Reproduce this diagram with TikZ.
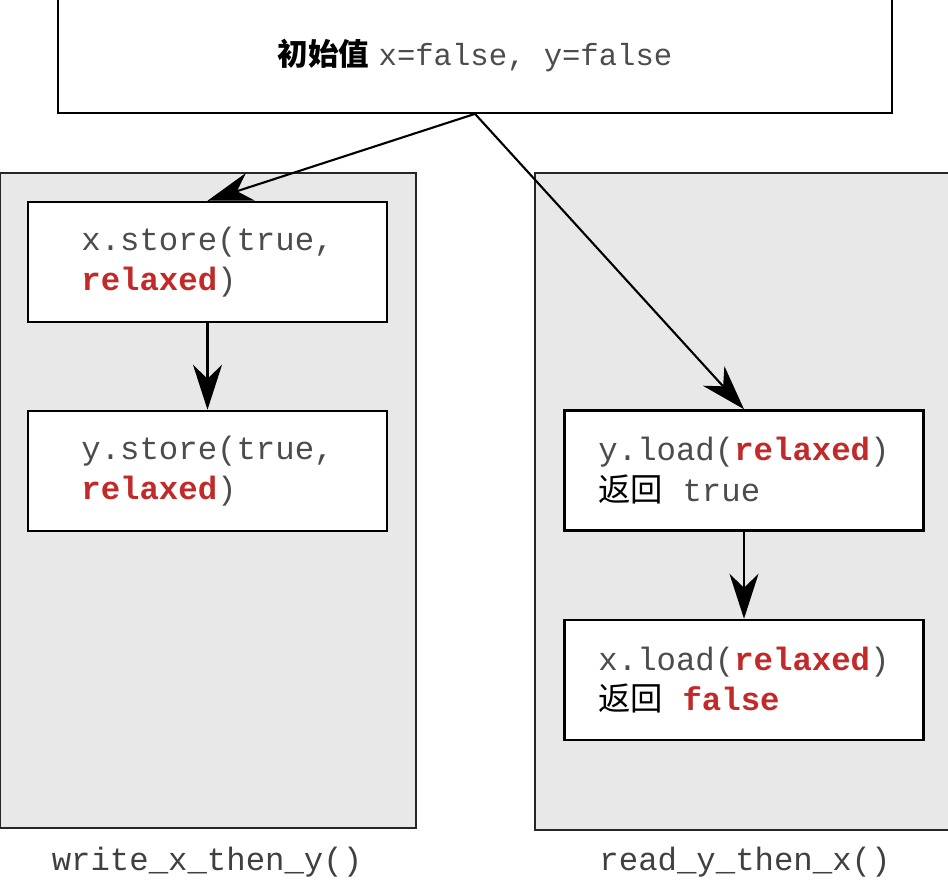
\documentclass[tikz,border=0pt]{standalone}
\usepackage{fontspec}
\setmonofont{Liberation Mono}
\newfontfamily\cjk{Noto Sans CJK SC}
\usetikzlibrary{arrows.meta}
\definecolor{mred}{rgb}{0.76, 0.16, 0.16}
\definecolor{mpanel}{rgb}{0.91, 0.91, 0.91}
\newcommand{\kw}[1]{\textcolor{mred}{\bfseries #1}}

\begin{document}
\begin{tikzpicture}[
    stmt/.style={draw, line width=1.4pt, fill=white, align=left, text=black!70, font=\ttfamily\fontsize{18.4}{23}\selectfont, minimum width=7.18cm, minimum height=2.4cm},
    flow/.style={-{Stealth[length=9mm, width=5.8mm, inset=2.8mm]}, line width=1.2pt}
  ]
  \useasboundingbox (0, 0) rectangle (18.96, 17.76);

  \draw [draw=black!85, line width=1.3pt, fill=mpanel] (0, 1.2) rectangle (8.32, 14.3);
  \draw [draw=black!85, line width=1.3pt, fill=mpanel] (10.7, 1.16) rectangle (19.2, 14.3);

  \node [draw, line width=1pt, fill=white, minimum width=16.68cm, minimum height=2.3cm, font=\fontsize{17.4}{21}\selectfont] (init) at (9.5, 16.65) {{\cjk\bfseries 初始值} {\ttfamily\color{black!70}x=false, y=false}};

  \node [stmt] (wx) at (4.15, 12.52) {x.store(true,\\\kw{relaxed})};
  \node [stmt] (wy) at (4.15, 8.34) {y.store(true,\\\kw{relaxed})};
  \node [stmt] (ry) at (14.88, 8.35) {y.load(\kw{relaxed})\\{\cjk\color{black}返回} true};
  \node [stmt] (rx) at (14.88, 4.16) {x.load(\kw{relaxed})\\{\cjk\color{black}返回} \kw{false}};

  \node [font=\ttfamily\fontsize{18.4}{23}\selectfont, text=black!75] (wlabel) at (4.14, 0.52) {write\_x\_then\_y()};
  \node [font=\ttfamily\fontsize{18.4}{23}\selectfont, text=black!75] (rlabel) at (14.9, 0.52) {read\_y\_then\_x()};

  \draw [flow] (init.south) -- (wx.north);
  \draw [flow] (init.south) -- (ry.north);
  \draw [flow] (wx) -- (wy);
  \draw [flow] (ry) -- (rx);
\end{tikzpicture}
\end{document}
